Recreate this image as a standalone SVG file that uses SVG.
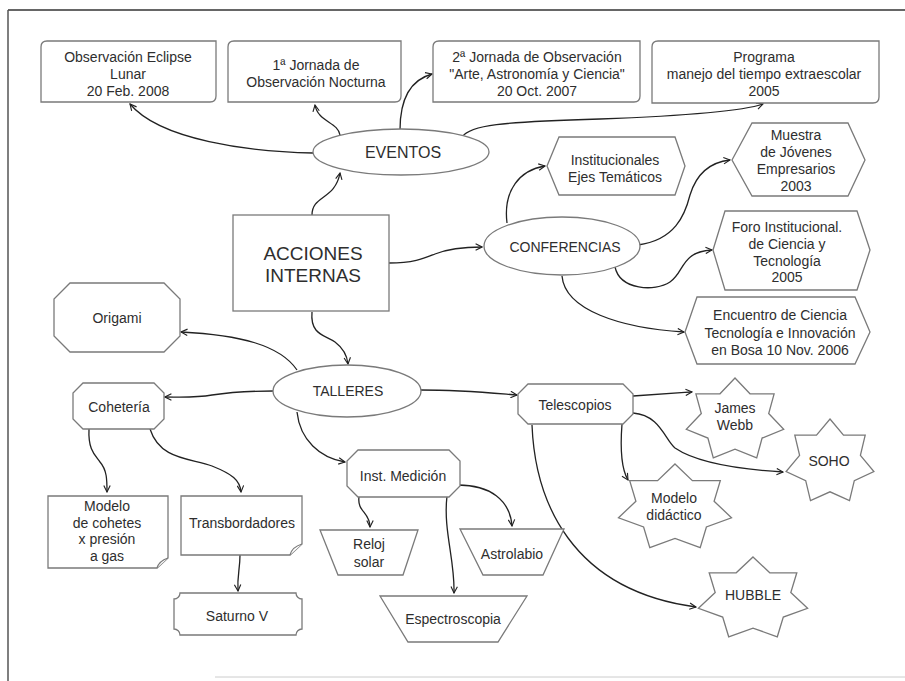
<svg xmlns="http://www.w3.org/2000/svg" width="905" height="681" viewBox="0 0 905 681">
<defs>
<style>
.s{fill:#fff;stroke:#7a7a7a;stroke-width:1.3}
.t{font-family:"Liberation Sans",Arial,sans-serif;font-size:14px;fill:#2e2e2e;text-anchor:middle}
.c path{fill:none;stroke:#222;stroke-width:1.3;marker-end:url(#a)}
</style>
<marker id="a" viewBox="0 0 10 10" refX="9" refY="5" markerWidth="8" markerHeight="8" markerUnits="userSpaceOnUse" orient="auto">
<path d="M1,1 L9,5 L1,9" fill="none" stroke="#222" stroke-width="1.4"/>
</marker>
</defs>
<rect width="905" height="681" fill="#fff"/>
<g id="frame">
<line x1="8" y1="10" x2="905" y2="10" stroke="#333" stroke-width="1.5"/>
<line x1="8" y1="10" x2="8" y2="681" stroke="#555" stroke-width="1.5"/>
<line x1="215" y1="677" x2="905" y2="677" stroke="#ccc" stroke-width="1"/>
</g>
<g class="c" id="connectors">
<path d="M313,153 C250,152 160,140 130,104"/>
<path d="M340,135 C338,122 318,122 315,105"/>
<path d="M400,130 C400,100 410,80 432,74"/>
<path d="M462,137 C470,125 500,122 600,119 C680,116 740,112 763,104"/>
<path d="M312,215 C312,195 335,200 340,173"/>
<path d="M389,263 C415,263 425,258 435,254 C450,248 465,247 482,247"/>
<path d="M507,223 C503,190 520,170 545,166"/>
<path d="M638,245 C675,240 685,215 690,195 C697,172 712,162 730,160"/>
<path d="M615,267 C620,290 655,292 670,282 C685,272 680,252 712,250"/>
<path d="M562,276 C565,310 620,328 684,332"/>
<path d="M312,312 C310,335 325,335 335,342 C343,348 347,355 348,364"/>
<path d="M297,370 C280,345 240,335 181,332"/>
<path d="M273,391 C240,391 225,393 212,395 C195,398 180,397 165,397"/>
<path d="M89,429 C88,450 95,455 100,462 C107,470 107,480 107,492"/>
<path d="M150,429 C160,460 190,458 212,466 C232,474 240,480 241,492"/>
<path d="M240,555 C240,570 237,575 238,591"/>
<path d="M297,412 C300,440 320,458 345,462"/>
<path d="M359,497 C357,512 370,512 370,527"/>
<path d="M447,496 C443,530 455,560 454,593"/>
<path d="M458,485 C490,485 510,500 512,526"/>
<path d="M420,390 C460,390 480,392 517,395"/>
<path d="M633,396 C660,394 675,393 692,392"/>
<path d="M633,413 C660,415 665,440 675,448 C700,465 750,470 783,472"/>
<path d="M622,424 C620,450 622,470 628,480"/>
<path d="M532,425 C535,500 570,590 696,607"/>
</g>
<g id="eclipse">
<path class="s" d="M47,41 H216 V96 Q216,102 210,102 H41 V47 Q41,41 47,41 Z"/>
<text class="t" x="128" y="62">Observación Eclipse</text>
<text class="t" x="128" y="79">Lunar</text>
<text class="t" x="128" y="96">20 Feb. 2008</text>
</g>
<g id="jornada1">
<path class="s" d="M234,41 H401 V96 Q401,102 395,102 H228 V47 Q228,41 234,41 Z"/>
<text class="t" x="316" y="70">1ª Jornada de</text>
<text class="t" x="316" y="87">Observación Nocturna</text>
</g>
<g id="jornada2">
<path class="s" d="M439,41 H640 V96 Q640,102 634,102 H433 V47 Q433,41 439,41 Z"/>
<text class="t" x="537" y="62">2ª Jornada de Observación</text>
<text class="t" x="537" y="79">"Arte, Astronomía y Ciencia"</text>
<text class="t" x="537" y="96">20 Oct. 2007</text>
</g>
<g id="programa">
<path class="s" d="M658,41 H879 V97 Q879,103 873,103 H652 V47 Q652,41 658,41 Z"/>
<text class="t" x="764" y="62">Programa</text>
<text class="t" x="764" y="79">manejo del tiempo extraescolar</text>
<text class="t" x="764" y="96">2005</text>
</g>
<g id="eventos">
<ellipse class="s" cx="401" cy="152" rx="88" ry="23"/>
<text class="t" x="403" y="158" style="font-size:16px">EVENTOS</text>
</g>
<g id="acciones">
<rect class="s" x="233" y="215" width="156" height="96"/>
<text class="t" x="313" y="260" style="font-size:19px">ACCIONES</text>
<text class="t" x="313" y="282" style="font-size:19px">INTERNAS</text>
</g>
<g id="conferencias">
<ellipse class="s" cx="562" cy="246" rx="78" ry="29"/>
<text class="t" x="565" y="252">CONFERENCIAS</text>
</g>
<g id="institucionales">
<polygon class="s" points="547,166 559,137 675,137 685,166 675,195 559,195"/>
<text class="t" x="615" y="165">Institucionales</text>
<text class="t" x="615" y="182">Ejes Temáticos</text>
</g>
<g id="muestra">
<polygon class="s" points="732,160 752,123 848,123 865,160 848,196 752,196"/>
<text class="t" x="796" y="140">Muestra</text>
<text class="t" x="796" y="157">de Jóvenes</text>
<text class="t" x="796" y="174">Empresarios</text>
<text class="t" x="796" y="191">2003</text>
</g>
<g id="foro">
<polygon class="s" points="713,250 725,211 857,211 870,250 857,290 725,290"/>
<text class="t" x="787" y="232">Foro Institucional.</text>
<text class="t" x="787" y="249">de Ciencia  y</text>
<text class="t" x="787" y="266">Tecnología</text>
<text class="t" x="787" y="282">2005</text>
</g>
<g id="encuentro">
<polygon class="s" points="685,332 697,297 855,297 870,332 855,364 697,364"/>
<text class="t" x="780" y="320">Encuentro de Ciencia</text>
<text class="t" x="780" y="338">Tecnología e Innovación</text>
<text class="t" x="780" y="355">en Bosa 10 Nov. 2006</text>
</g>
<g id="talleres">
<ellipse class="s" cx="347" cy="391" rx="74" ry="26"/>
<text class="t" x="348" y="396">TALLERES</text>
</g>
<g id="origami">
<polygon class="s" points="70,283 164,283 180,299 180,336 164,352 70,352 54,336 54,299"/>
<text class="t" x="117" y="323">Origami</text>
</g>
<g id="coheteria">
<polygon class="s" points="83,383 154,383 164,393 164,419 154,429 83,429 73,419 73,393"/>
<text class="t" x="119" y="412">Cohetería</text>
</g>
<g id="modelo-cohetes">
<path class="s" d="M48,496 H168 V558 L157,568 H48 Z"/>
<path class="s" d="M157,568 Q159,561 168,558" fill="none"/>
<text class="t" x="107" y="511">Modelo</text>
<text class="t" x="107" y="528">de cohetes</text>
<text class="t" x="107" y="544">x presión</text>
<text class="t" x="107" y="561">a gas</text>
</g>
<g id="transbordadores">
<path class="s" d="M181,496 H302 V544 L290,555 H181 Z"/>
<path class="s" d="M290,555 Q292,547 302,544" fill="none"/>
<text class="t" x="242" y="528">Transbordadores</text>
</g>
<g id="saturno">
<path class="s" d="M180,593 H296 A6,6 0 0 0 302,599 V629 A6,6 0 0 0 296,635 H180 A6,6 0 0 0 174,629 V599 A6,6 0 0 0 180,593 Z"/>
<text class="t" x="237" y="621">Saturno V</text>
</g>
<g id="inst-medicion">
<polygon class="s" points="358,450 449,450 460,461 460,486 449,497 358,497 347,486 347,461"/>
<text class="t" x="403" y="481">Inst. Medición</text>
</g>
<g id="reloj">
<polygon class="s" points="320,530 418,530 403,575 338,575"/>
<text class="t" x="369" y="549">Reloj</text>
<text class="t" x="369" y="567">solar</text>
</g>
<g id="astrolabio">
<polygon class="s" points="460,529 564,529 543,575 483,575"/>
<text class="t" x="512" y="559">Astrolabio</text>
</g>
<g id="espectroscopia">
<polygon class="s" points="380,596 527,596 498,642 408,642"/>
<text class="t" x="453" y="624">Espectroscopia</text>
</g>
<g id="telescopios">
<polygon class="s" points="528,384 623,384 633,394 633,414 623,424 528,424 518,414 518,394"/>
<text class="t" x="575" y="410">Telescopios</text>
</g>
<g id="james-webb">
<polygon class="s" points="735,378 750,393.8 774.1,393.8 768.7,413.5 783.7,429.3 762.1,438.1 756.7,457.8 735,449.1 713.3,457.8 707.9,438.1 686.3,429.3 701.3,413.5 695.9,393.8 720,393.8"/>
<text class="t" x="735" y="413">James</text>
<text class="t" x="735" y="430">Webb</text>
</g>
<g id="soho">
<polygon class="s" points="830,419 843.5,435.2 865.2,435.2 860.4,455.4 873.9,471.6 854.3,480.6 849.5,500.7 830,491.8 810.5,500.7 805.7,480.6 786.1,471.6 799.6,455.4 794.8,435.2 816.5,435.2"/>
<text class="t" x="829" y="466">SOHO</text>
</g>
<g id="modelo-didactico">
<polygon class="s" points="675,464 692.4,480.6 720.3,480.6 714.1,501.2 731.5,517.8 706.4,527 700.2,547.6 675,538.4 649.8,547.6 643.6,527 618.5,517.8 635.9,501.2 629.7,480.6 657.6,480.6"/>
<text class="t" x="674" y="503">Modelo</text>
<text class="t" x="674" y="520">didáctico</text>
</g>
<g id="hubble">
<polygon class="s" points="753,557 769.8,572.8 796.8,572.8 790.8,592.5 807.6,608.3 783.3,617.1 777.3,636.8 753,628.1 728.7,636.8 722.7,617.1 698.4,608.3 715.2,592.5 709.2,572.8 736.2,572.8"/>
<text class="t" x="753" y="600">HUBBLE</text>
</g>
</svg>
